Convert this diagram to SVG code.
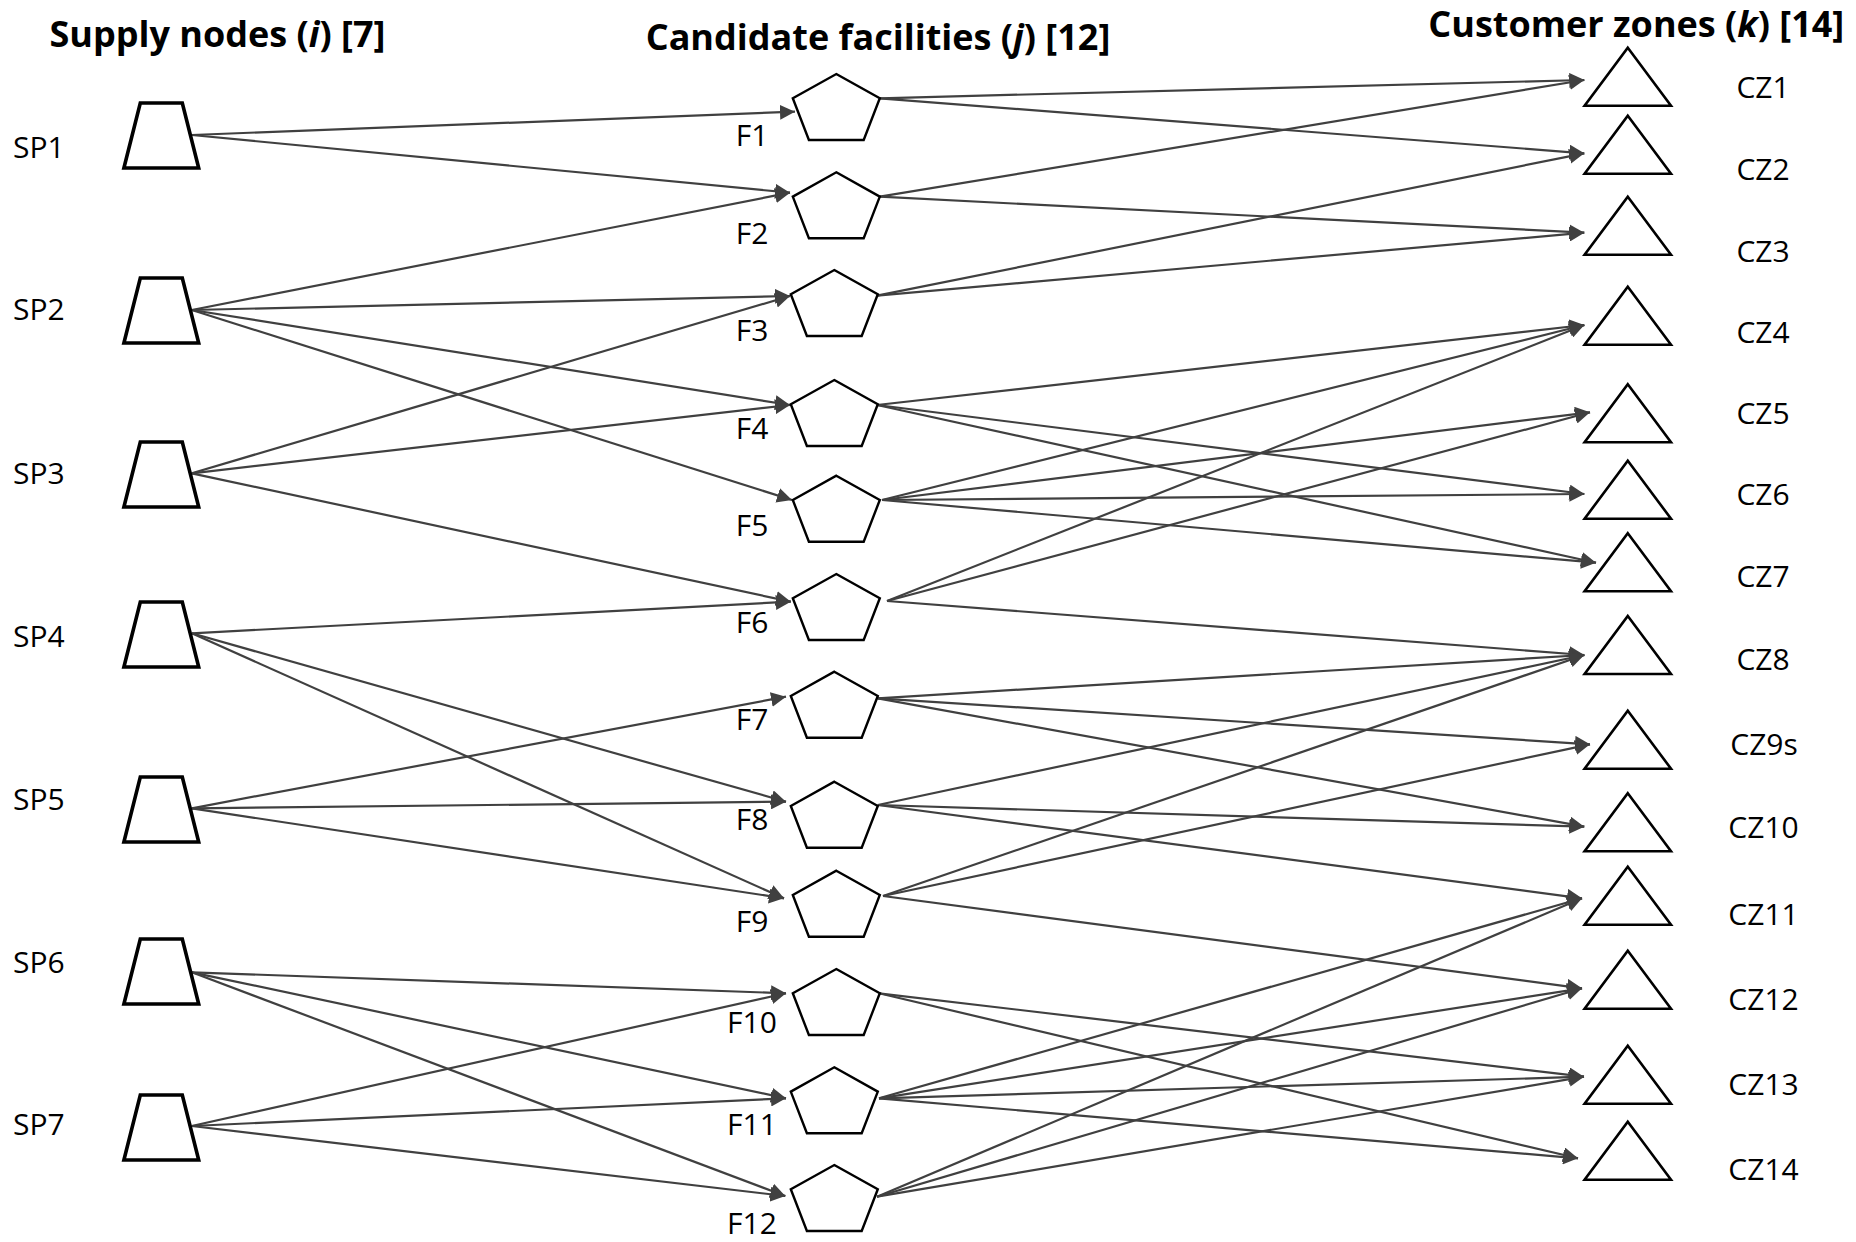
<svg xmlns="http://www.w3.org/2000/svg" xmlns:xlink="http://www.w3.org/1999/xlink" width="1856" height="1242" viewBox="0 0 1856 1242">
  <style>
    .hdr { font-family: "Open Sans", "Noto Sans", "Liberation Sans", sans-serif; font-weight: bold; font-size: 36px; fill: #000; text-anchor: middle; }
    .hdr .it { font-style: italic; }
    .lbl { font-family: "Open Sans", "Noto Sans", "Liberation Sans", sans-serif; font-size: 30px; fill: #000; }
    .mid { text-anchor: middle; }
    .trap { fill: #fff; stroke: #000; stroke-width: 3.6; stroke-linejoin: miter; }
    .pent { fill: #fff; stroke: #000; stroke-width: 2.4; stroke-linejoin: miter; }
    .tri { fill: #fff; stroke: #000; stroke-width: 2.6; stroke-linejoin: miter; }
    .edge { stroke: #404040; stroke-width: 2.2; fill: none; marker-end: url(#arrow); }
  </style>
  <defs>
    <marker id="arrow" markerUnits="userSpaceOnUse" viewBox="0 0 15 15" markerWidth="15" markerHeight="15" refX="15" refY="7.5" orient="auto">
      <path d="M0,0 L15,7.5 L0,15 z" fill="#404040"/>
    </marker>
    <!-- supply node: trapezoid, origin at centre of top edge -->
    <polygon id="trap" class="trap" points="-21,0 21,0 37.4,65 -37.4,65"/>
    <!-- facility: pentagon, origin at top vertex -->
    <polygon id="pent" class="pent" points="0,0 43.5,24.3 27.4,66 -27.4,66 -43.5,24.3"/>
    <!-- customer zone: triangle, origin at apex -->
    <polygon id="tri" class="tri" points="0,0 43.2,58 -43.2,58"/>
  </defs>

  <rect width="1856" height="1242" fill="#fff"/>

  <!-- column headers -->
  <g id="headers">
    <text class="hdr" x="217.5" y="47">Supply nodes (<tspan class="it">i</tspan>) [7]</text>
    <text class="hdr" x="878" y="49.5">Candidate facilities (<tspan class="it">j</tspan>) [12]</text>
    <text class="hdr" x="1636.3" y="37">Customer zones (<tspan class="it">k</tspan>) [14]</text>
  </g>

  <!-- flows -->
  <g id="connectors">
    <!-- supply to facility -->
    <line class="edge" x1="191.8" y1="135" x2="795" y2="111.7"/>
    <line class="edge" x1="191.8" y1="135" x2="790" y2="192.7"/>
    <line class="edge" x1="191.8" y1="310" x2="790" y2="192.7"/>
    <line class="edge" x1="191.8" y1="310" x2="790" y2="296"/>
    <line class="edge" x1="191.8" y1="310" x2="790" y2="405"/>
    <line class="edge" x1="191.8" y1="310" x2="792" y2="500"/>
    <line class="edge" x1="191.8" y1="473.3" x2="790" y2="296"/>
    <line class="edge" x1="191.8" y1="473.3" x2="790" y2="405"/>
    <line class="edge" x1="191.8" y1="473.3" x2="790.8" y2="601.7"/>
    <line class="edge" x1="191.8" y1="633.3" x2="790.8" y2="601.7"/>
    <line class="edge" x1="191.8" y1="633.3" x2="786" y2="801.7"/>
    <line class="edge" x1="191.8" y1="633.3" x2="784" y2="898.3"/>
    <line class="edge" x1="191.8" y1="808.3" x2="786" y2="696.7"/>
    <line class="edge" x1="191.8" y1="808.3" x2="786" y2="801.7"/>
    <line class="edge" x1="191.8" y1="808.3" x2="784" y2="898.3"/>
    <line class="edge" x1="191.8" y1="972.3" x2="786" y2="993.3"/>
    <line class="edge" x1="191.8" y1="972.3" x2="786" y2="1098.3"/>
    <line class="edge" x1="191.8" y1="972.3" x2="785.3" y2="1196"/>
    <line class="edge" x1="191.8" y1="1126" x2="786" y2="993.3"/>
    <line class="edge" x1="191.8" y1="1126" x2="786" y2="1098.3"/>
    <line class="edge" x1="191.8" y1="1126" x2="785.3" y2="1196"/>
    <!-- facility to customer zone -->
    <line class="edge" x1="879.8" y1="98.3" x2="1584.3" y2="80"/>
    <line class="edge" x1="879.8" y1="98.3" x2="1584.3" y2="153.3"/>
    <line class="edge" x1="879.8" y1="196.7" x2="1584.3" y2="80"/>
    <line class="edge" x1="879.8" y1="196.7" x2="1584.3" y2="232.7"/>
    <line class="edge" x1="877" y1="295.7" x2="1584.3" y2="153.3"/>
    <line class="edge" x1="877" y1="295.7" x2="1584.3" y2="232.7"/>
    <line class="edge" x1="877" y1="405" x2="1584.3" y2="325"/>
    <line class="edge" x1="877" y1="405" x2="1584.3" y2="494"/>
    <line class="edge" x1="877" y1="405" x2="1596" y2="562.7"/>
    <line class="edge" x1="882" y1="500" x2="1584.3" y2="325"/>
    <line class="edge" x1="882" y1="500" x2="1590" y2="412.3"/>
    <line class="edge" x1="882" y1="500" x2="1584.3" y2="494"/>
    <line class="edge" x1="882" y1="500" x2="1596" y2="562.7"/>
    <line class="edge" x1="887" y1="601" x2="1584.3" y2="325"/>
    <line class="edge" x1="887" y1="601" x2="1590" y2="412.3"/>
    <line class="edge" x1="887" y1="601" x2="1584.3" y2="655"/>
    <line class="edge" x1="877.8" y1="698.3" x2="1584.3" y2="655"/>
    <line class="edge" x1="877.8" y1="698.3" x2="1590" y2="744.3"/>
    <line class="edge" x1="877.8" y1="698.3" x2="1584.3" y2="826.7"/>
    <line class="edge" x1="877.8" y1="805" x2="1584.3" y2="655"/>
    <line class="edge" x1="877.8" y1="805" x2="1584.3" y2="826.7"/>
    <line class="edge" x1="877.8" y1="805" x2="1582" y2="898.3"/>
    <line class="edge" x1="883" y1="896" x2="1584.3" y2="655"/>
    <line class="edge" x1="883" y1="896" x2="1590" y2="744.3"/>
    <line class="edge" x1="883" y1="896" x2="1582" y2="988.3"/>
    <line class="edge" x1="879" y1="993.3" x2="1584" y2="1076.7"/>
    <line class="edge" x1="879" y1="993.3" x2="1578" y2="1158.3"/>
    <line class="edge" x1="879" y1="1098.3" x2="1582" y2="898.3"/>
    <line class="edge" x1="879" y1="1098.3" x2="1582" y2="988.3"/>
    <line class="edge" x1="879" y1="1098.3" x2="1584" y2="1076.7"/>
    <line class="edge" x1="879" y1="1098.3" x2="1578" y2="1158.3"/>
    <line class="edge" x1="877" y1="1196.7" x2="1582" y2="898.3"/>
    <line class="edge" x1="877" y1="1196.7" x2="1582" y2="988.3"/>
    <line class="edge" x1="877" y1="1196.7" x2="1584" y2="1076.7"/>
  </g>

  <!-- supply nodes -->
  <g id="SP1"><use xlink:href="#trap" x="161.3" y="103"/><text class="lbl" x="13" y="157.5">SP1</text></g>
  <g id="SP2"><use xlink:href="#trap" x="161.3" y="278"/><text class="lbl" x="13" y="319.5">SP2</text></g>
  <g id="SP3"><use xlink:href="#trap" x="161.3" y="442"/><text class="lbl" x="13" y="483.5">SP3</text></g>
  <g id="SP4"><use xlink:href="#trap" x="161.3" y="602"/><text class="lbl" x="13" y="646.5">SP4</text></g>
  <g id="SP5"><use xlink:href="#trap" x="161.3" y="777"/><text class="lbl" x="13" y="809.5">SP5</text></g>
  <g id="SP6"><use xlink:href="#trap" x="161.3" y="939"/><text class="lbl" x="13" y="972.5">SP6</text></g>
  <g id="SP7"><use xlink:href="#trap" x="161.3" y="1095"/><text class="lbl" x="13" y="1134.5">SP7</text></g>

  <!-- candidate facilities -->
  <g id="F1"><use xlink:href="#pent" x="836.3" y="74"/><text class="lbl mid" x="752" y="146">F1</text></g>
  <g id="F2"><use xlink:href="#pent" x="836.3" y="172.3"/><text class="lbl mid" x="752" y="244">F2</text></g>
  <g id="F3"><use xlink:href="#pent" x="834.3" y="270"/><text class="lbl mid" x="752" y="340.7">F3</text></g>
  <g id="F4"><use xlink:href="#pent" x="834.3" y="380"/><text class="lbl mid" x="752" y="438.5">F4</text></g>
  <g id="F5"><use xlink:href="#pent" x="836.3" y="475.7"/><text class="lbl mid" x="752" y="535.5">F5</text></g>
  <g id="F6"><use xlink:href="#pent" x="836.3" y="574"/><text class="lbl mid" x="752" y="633.3">F6</text></g>
  <g id="F7"><use xlink:href="#pent" x="834.3" y="671.7"/><text class="lbl mid" x="752" y="730">F7</text></g>
  <g id="F8"><use xlink:href="#pent" x="834.3" y="781.7"/><text class="lbl mid" x="752" y="830">F8</text></g>
  <g id="F9"><use xlink:href="#pent" x="836.3" y="870.7"/><text class="lbl mid" x="752" y="932">F9</text></g>
  <g id="F10"><use xlink:href="#pent" x="836.3" y="969"/><text class="lbl mid" x="752" y="1033">F10</text></g>
  <g id="F11"><use xlink:href="#pent" x="834.3" y="1067.3"/><text class="lbl mid" x="752" y="1135">F11</text></g>
  <g id="F12"><use xlink:href="#pent" x="834.3" y="1165"/><text class="lbl mid" x="752" y="1233.5">F12</text></g>

  <!-- customer zones -->
  <g id="CZ1"><use xlink:href="#tri" x="1627.8" y="47.7"/><text class="lbl mid" x="1763" y="98">CZ1</text></g>
  <g id="CZ2"><use xlink:href="#tri" x="1627.8" y="115.7"/><text class="lbl mid" x="1763" y="180">CZ2</text></g>
  <g id="CZ3"><use xlink:href="#tri" x="1627.8" y="196.7"/><text class="lbl mid" x="1763" y="261.5">CZ3</text></g>
  <g id="CZ4"><use xlink:href="#tri" x="1627.8" y="286.7"/><text class="lbl mid" x="1763" y="342.5">CZ4</text></g>
  <g id="CZ5"><use xlink:href="#tri" x="1627.8" y="384.3"/><text class="lbl mid" x="1763" y="424">CZ5</text></g>
  <g id="CZ6"><use xlink:href="#tri" x="1627.8" y="460.7"/><text class="lbl mid" x="1763" y="505">CZ6</text></g>
  <g id="CZ7"><use xlink:href="#tri" x="1627.8" y="533.3"/><text class="lbl mid" x="1763" y="586.5">CZ7</text></g>
  <g id="CZ8"><use xlink:href="#tri" x="1627.8" y="616"/><text class="lbl mid" x="1763" y="670">CZ8</text></g>
  <g id="CZ9s"><use xlink:href="#tri" x="1627.8" y="710.7"/><text class="lbl mid" x="1764" y="754.5">CZ9s</text></g>
  <g id="CZ10"><use xlink:href="#tri" x="1627.8" y="793.3"/><text class="lbl mid" x="1763.5" y="837.5">CZ10</text></g>
  <g id="CZ11"><use xlink:href="#tri" x="1627.8" y="866.7"/><text class="lbl mid" x="1763.5" y="925">CZ11</text></g>
  <g id="CZ12"><use xlink:href="#tri" x="1627.8" y="950.7"/><text class="lbl mid" x="1763.5" y="1009.5">CZ12</text></g>
  <g id="CZ13"><use xlink:href="#tri" x="1627.8" y="1045.7"/><text class="lbl mid" x="1763.5" y="1094.5">CZ13</text></g>
  <g id="CZ14"><use xlink:href="#tri" x="1627.8" y="1121.7"/><text class="lbl mid" x="1763.5" y="1179.5">CZ14</text></g>
</svg>
